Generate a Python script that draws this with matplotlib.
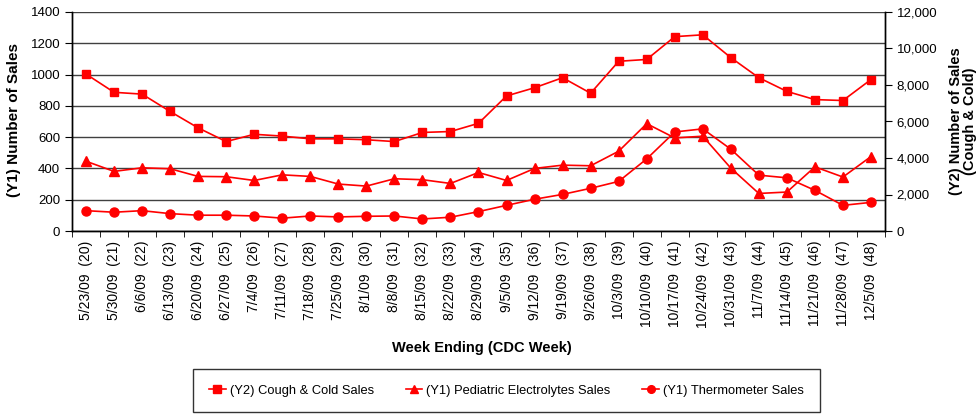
import matplotlib
matplotlib.use("Agg")
import matplotlib.pyplot as plt
import numpy as np

plt.rcParams['font.family'] = ['Liberation Sans', 'DejaVu Sans']

dates = ["5/23/09", "5/30/09", "6/6/09", "6/13/09", "6/20/09", "6/27/09", "7/4/09",
         "7/11/09", "7/18/09", "7/25/09", "8/1/09", "8/8/09", "8/15/09", "8/22/09",
         "8/29/09", "9/5/09", "9/12/09", "9/19/09", "9/26/09", "10/3/09", "10/10/09",
         "10/17/09", "10/24/09", "10/31/09", "11/7/09", "11/14/09", "11/21/09",
         "11/28/09", "12/5/09"]
weeks = list(range(20, 49))

cough_cold = [8600, 7600, 7500, 6550, 5650, 4900, 5300, 5200, 5050, 5050, 5000, 4900,
              5400, 5450, 5900, 7400, 7850, 8400, 7550, 9300, 9400, 10650, 10750,
              9500, 8400, 7650, 7200, 7150, 8300]
pediatric = [446, 381, 404, 398, 349, 347, 323, 359, 349, 300, 287, 334, 328, 304,
             374, 323, 400, 421, 417, 510, 686, 595, 606, 402, 240, 249, 410, 345, 476]
thermometer = [130, 120, 130, 111, 101, 101, 96, 82, 96, 90, 94, 96, 77, 88, 124,
               164, 203, 234, 273, 317, 461, 633, 653, 523, 357, 340, 260, 164, 183]

labels = [f"{d}  ({w})" for d, w in zip(dates, weeks)]
x = np.arange(len(dates))
red = '#FF0000'

fig = plt.figure(figsize=(9.76, 4.16), dpi=100)
ax = fig.add_axes([72/976, 1-231/416, (885-72)/976, (231-12)/416])
ax2 = ax.twinx()

ax.set_ylim(0, 1400)
ax.set_yticks(np.arange(0, 1401, 200))
ax2.set_ylim(0, 12000)
ax2.set_yticks(np.arange(0, 12001, 2000))
ax2.set_yticklabels([f"{v:,}" for v in range(0, 12001, 2000)])
ax.set_xlim(-0.5, len(dates) - 0.5)

ax.grid(axis='y', color='#404040', linewidth=1.0)
ax.set_axisbelow(True)

l1, = ax2.plot(x, cough_cold, color=red, marker='s', markersize=6, linewidth=1.2,
               label='(Y2) Cough & Cold Sales')
l2, = ax.plot(x, pediatric, color=red, marker='^', markersize=6.5, linewidth=1.2,
              label='(Y1) Pediatric Electrolytes Sales')
l3, = ax.plot(x, thermometer, color=red, marker='o', markersize=6.5, linewidth=1.2,
              label='(Y1) Thermometer Sales')

ax.set_xticks(x)
ax.set_xticklabels(labels, rotation=90, fontsize=10)
ax.set_xticks(np.arange(-0.5, len(dates)), minor=True)
ax.tick_params(axis='x', which='major', length=0, pad=7)
ax.tick_params(axis='x', which='minor', length=4, direction='out', color='black')
ax.tick_params(axis='y', labelsize=9.5, length=5, direction='out')
ax2.tick_params(axis='y', labelsize=9.5, length=5, direction='out')

for a in (ax, ax2):
    a.spines['top'].set_visible(False)
    for s in ('left', 'right', 'bottom'):
        a.spines[s].set_color('black')
        a.spines[s].set_linewidth(1.0)

fig.text(14/976, 1-120/416, "(Y1) Number of Sales", rotation=90, ha='center', va='center',
         fontsize=11, fontweight='bold')
fig.text(963/976, 1-121/416, "(Y2) Number of Sales\n(Cough & Cold)", rotation=90,
         ha='center', va='center', fontsize=10.5, fontweight='bold', linespacing=1.0)
fig.text(482/976, 1-348/416, "Week Ending (CDC Week)", ha='center', va='center',
         fontsize=10.5, fontweight='bold')

leg = fig.legend(handles=[l1, l2, l3], loc='lower left',
                 bbox_to_anchor=(187/976, -2.5/416, 639/976, 42/416), mode='expand',
                 ncol=3, fontsize=9.3, frameon=True, fancybox=False, edgecolor='black',
                 borderpad=1.2, handlelength=1.3, handletextpad=0.3, columnspacing=2.0,
                 markerscale=0.85)
leg.get_frame().set_linewidth(1.0)

fig.savefig("out.png", dpi=100)
